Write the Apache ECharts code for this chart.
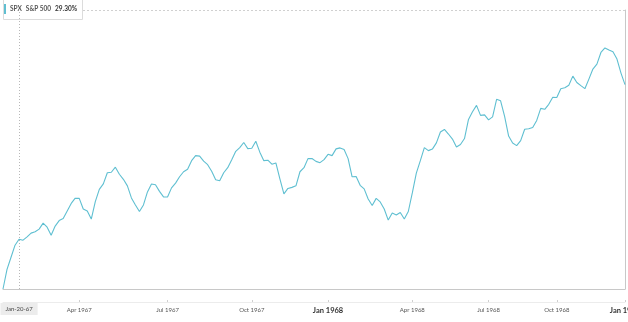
<!DOCTYPE html>
<html>
<head>
<meta charset="utf-8">
<script src="https://cdn.jsdelivr.net/npm/echarts@6/dist/echarts.min.js"></script>
<style>
html,body{margin:0;padding:0;background:#fff;}
#chart{width:628px;height:322px;}
</style>
</head>
<body>
<div id="chart"></div>
<script>
// Percent change of the S&P 500 since the start of the period, one value per session step
const pctChange = [
 0.00, 2.81, 4.55, 6.28, 7.14, 7.00, 7.47, 8.01, 8.20, 8.59,
 9.45, 8.87, 7.72, 9.02, 9.81, 10.10, 11.18, 12.27, 13.02, 12.99,
 11.47, 11.18, 10.03, 12.53, 14.29, 15.08, 16.67, 16.74, 17.46, 16.45,
 15.73, 14.79, 13.06, 12.05, 11.11, 12.05, 13.92, 15.05, 14.94, 14.00,
 13.20, 13.20, 14.50, 15.18, 16.09, 16.81, 17.17, 18.40, 19.12, 19.05,
 18.33, 17.82, 16.88, 15.66, 15.51, 16.67, 17.39, 18.54, 19.74, 20.27,
 21.00, 20.13, 20.17, 21.18, 19.62, 18.40, 18.47, 17.89, 18.07, 15.80,
 13.64, 14.42, 14.57, 14.79, 16.81, 17.39, 18.69, 18.70, 18.30, 18.11,
 18.54, 19.31, 19.12, 20.09, 20.23, 19.99, 18.69, 16.09, 16.13, 14.86,
 14.36, 12.91, 11.98, 12.99, 12.48, 11.47, 9.88, 10.89, 10.61, 10.97,
 10.03, 11.11, 13.78, 16.62, 18.40, 20.27, 19.84, 20.06, 20.95, 22.51,
 22.87, 22.22, 21.50, 20.35, 20.71, 21.57, 24.31, 25.40, 26.33, 24.89,
 24.96, 24.24, 24.68, 27.20, 26.98, 24.75, 21.93, 20.92, 20.56, 21.28,
 22.90, 22.97, 23.16, 24.17, 25.90, 25.76, 26.48, 27.49, 27.45, 28.72,
 28.86, 29.22, 30.52, 29.61, 29.15, 28.72, 30.09, 31.53, 32.25, 33.91,
 34.56, 34.27, 34.01, 32.97, 30.95, 29.30
];
// Tick labels and the session index where each one sits
const tickLabels = ['Apr 1967','Jul 1967','Oct 1967','Jan 1968','Apr 1968','Jul 1968','Oct 1968','Jan 1969'];
const tickAt     = [19, 41, 62, 81, 102, 121, 138, 155];
const yearStart  = ['Jan 1968','Jan 1969'];
const cursorIndex = 4;
const cursorLabel = 'Jan-20-67';
const legendSymbol = 'SPX', legendName = 'S&P 500', legendValue = '29.30%';

const categories = pctChange.map((_, i) => String(i));
const labelFor = {};
tickAt.forEach((idx, k) => { labelFor[idx] = tickLabels[k]; });

const lineColor = '#5fbfd1';
const chart = echarts.init(document.getElementById('chart'), null, {renderer: 'canvas'});
chart.setOption({
  animation: false,
  textStyle: {fontFamily: 'Lato'},
  title: {
    left: 3, top: 2,
    text: '{bar|}{a|' + legendSymbol + '}{a|' + legendName + '}{b|' + legendValue + '}',
    backgroundColor: '#fff',
    borderColor: '#dcdcdc', borderWidth: 1,
    padding: [2, 6, 2, 1],
    textStyle: {
      rich: {
        bar: {width: 2, height: 10, backgroundColor: lineColor, padding: 0},
        a: {fontSize: 6.5, color: '#555', fontFamily: 'Lato', padding: [0, 0, 0, 4]},
        b: {fontSize: 6.5, color: '#333', fontWeight: 'bold', fontFamily: 'Lato', padding: [0, 0, 0, 4]}
      }
    }
  },
  grid: {left: 3, right: 3, top: 10, bottom: 33, containLabel: false, outerBoundsMode: 'none'},
  xAxis: [{
    type: 'category',
    data: categories,
    boundaryGap: false,
    axisLine: {show: true, lineStyle: {color: '#c8c8c8', width: 1}},
    axisTick: {show: false},
    axisLabel: {show: false},
    splitLine: {show: false},
    axisPointer: {
      show: true, status: 'show', value: cursorIndex, snap: false, triggerTooltip: false,
      type: 'line',
      lineStyle: {type: [1, 2], color: '#b8b8b8', width: 1},
      label: {
        show: true, formatter: cursorLabel, margin: 14,
        backgroundColor: '#ececec', color: '#444', fontSize: 6, fontFamily: 'Lato',
        padding: [3, 5, 3, 5], borderRadius: 0, shadowBlur: 0
      }
    }
  }, {
    type: 'category',
    data: categories,
    boundaryGap: false,
    position: 'bottom',
    offset: 13,
    axisLine: {show: true, lineStyle: {color: '#ececec', width: 1}},
    axisTick: {show: true, length: 2, inside: true, lineStyle: {color: '#cfcfcf'},
      interval: (i) => labelFor[i] !== undefined},
    axisLabel: {
      show: true, margin: 5,
      alignMinLabel: 'center', alignMaxLabel: 'center', hideOverlap: false,
      interval: (i) => labelFor[i] !== undefined,
      formatter: (v, i) => {
        const t = labelFor[i] || '';
        return yearStart.indexOf(t) >= 0 ? '{y|' + t + '}' : '{m|' + t + '}';
      },
      rich: {
        m: {fontSize: 6, color: '#555', fontFamily: 'Lato'},
        y: {fontSize: 7.5, color: '#333', fontWeight: 'bold', fontFamily: 'Lato'}
      }
    },
    splitLine: {show: false}
  }],
  yAxis: {
    type: 'value', position: 'right', min: 0, max: 40,
    axisLine: {show: true, lineStyle: {color: '#c8c8c8'}},
    axisTick: {show: false},
    axisLabel: {show: false},
    splitLine: {show: false}
  },
  series: [{
    type: 'line',
    xAxisIndex: 0,
    data: pctChange,
    showSymbol: false,
    symbol: 'none',
    lineStyle: {color: lineColor, width: 1.1},
    markLine: {
      silent: true, symbol: 'none', label: {show: false},
      lineStyle: {type: [2, 2], color: '#d0d0d0', width: 1},
      data: [{yAxis: 40}]
    }
  }]
});
</script>
</body>
</html>
